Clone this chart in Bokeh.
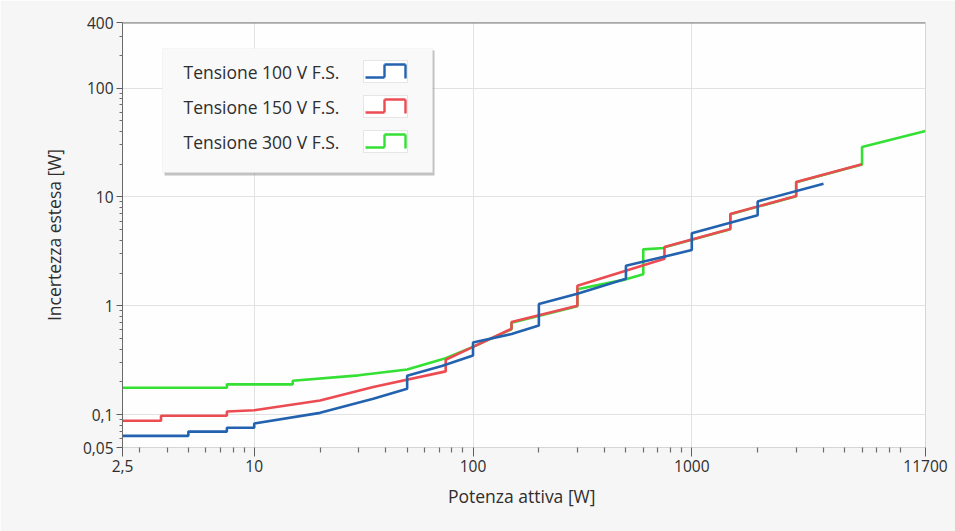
from bokeh.plotting import figure
from bokeh.models import FixedTicker, Range1d, Span, BoxAnnotation, Label, Arrow
from bokeh.embed import file_html
from bokeh.resources import INLINE

# Expanded uncertainty [W] vs. active power [W], one series per voltage full scale.
# Repeated x values mark the jumps at range changes.
v100_x = [2.5, 5, 5, 7.5, 7.5, 10, 10, 20, 35, 50, 50, 72, 100, 100, 150, 200, 200,
          300, 500, 500, 1000, 1000, 2000, 2000, 4000]
v100_y = [0.064, 0.064, 0.070, 0.070, 0.076, 0.076, 0.083, 0.104, 0.140, 0.173, 0.228,
          0.28, 0.35, 0.46, 0.55, 0.66, 1.04, 1.29, 1.77, 2.33, 3.25, 4.65, 6.8, 9.1, 13.2]

v150_x = [2.5, 3.75, 3.75, 7.5, 7.5, 10, 20, 35, 75, 75, 100, 150, 150, 300, 300,
          750, 750, 1500, 1500, 3000, 3000, 6000]
v150_y = [0.088, 0.088, 0.098, 0.098, 0.107, 0.110, 0.135, 0.18, 0.25, 0.32, 0.42,
          0.615, 0.71, 1.0, 1.53, 2.70, 3.47, 5.08, 6.98, 10.2, 13.7, 20.0]

v300_x = [2.5, 7.5, 7.5, 15, 15, 30, 50, 75, 100, 150, 150, 300, 300, 500, 600, 600,
          750, 750, 1500, 1500, 3000, 3000, 6000, 6000, 11700]
v300_y = [0.177, 0.177, 0.19, 0.19, 0.205, 0.23, 0.26, 0.33, 0.42, 0.61, 0.70, 0.99,
          1.42, 1.75, 1.95, 3.3, 3.4, 3.45, 5.05, 6.95, 10.15, 13.65, 19.9, 28.7, 40.3]

x_ticks = [2.5, 10, 100, 1000, 11700]
x_tick_labels = ["2,5", "10", "100", "1000", "11700"]
y_ticks = [0.05, 0.1, 1, 10, 100, 400]
y_tick_labels = ["0,05", "0,1", "1", "10", "100", "400"]

series_names = ["Tensione 100 V F.S.", "Tensione 150 V F.S.", "Tensione 300 V F.S."]
series_colors = ["#2262ae", "#ec4b52", "#33e033"]

FONT = "Open Sans"
TEXT = "#2e2e2e"

p = figure(width=955, height=531, x_axis_type="log", y_axis_type="log",
           x_range=Range1d(2.5, 11700), y_range=Range1d(0.05, 400),
           output_backend="svg", toolbar_location=None,
           min_border_left=122, min_border_right=30, min_border_top=22,
           min_border_bottom=84)
p.border_fill_color = "#f6f6f6"
p.background_fill_color = "#fefefe"
p.outline_line_color = "#d6d6d6"

minor_x = [m * d for d in (1, 10, 100, 1000) for m in range(2, 10) if 2.5 < m * d < 11700
           and m * d not in (10, 100, 1000)]
minor_y = [m * d for d in (0.01, 0.1, 1, 10, 100) for m in range(2, 10)
           if 0.05 < m * d < 400 and m * d not in (0.1, 1, 10, 100)]
p.xaxis.ticker = FixedTicker(ticks=x_ticks, minor_ticks=minor_x)
p.yaxis.ticker = FixedTicker(ticks=y_ticks, minor_ticks=minor_y)
p.xaxis.major_label_overrides = dict(zip(x_ticks, x_tick_labels))
p.yaxis.major_label_overrides = dict(zip(y_ticks, y_tick_labels))

for ax in (p.xaxis[0], p.yaxis[0]):
    ax.major_label_text_font = FONT
    ax.major_label_text_font_size = "15.5px"
    ax.major_label_text_color = TEXT
    ax.axis_label_text_font = FONT
    ax.axis_label_text_font_size = "17.5px"
    ax.axis_label_text_font_style = "normal"
    ax.axis_label_text_color = TEXT
    ax.major_tick_in = 0
    ax.minor_tick_in = 0
    ax.major_tick_line_color = "#5e5e5e"
    ax.minor_tick_line_color = "#6e6e6e"
    ax.minor_tick_line_width = 1.2

p.xaxis.axis_line_color = None
p.xaxis.major_tick_out = 9
p.xaxis.minor_tick_out = 5
p.xaxis.major_label_standoff = 3
p.xaxis.axis_label = "Potenza attiva  [W]"
p.xaxis.axis_label_standoff = 9

p.yaxis.axis_line_color = "#6a6a6a"
p.yaxis.major_tick_out = 6
p.yaxis.minor_tick_out = 3
p.yaxis.major_label_standoff = 3
p.yaxis.axis_label = "Incertezza estesa [W]"
p.yaxis.axis_label_standoff = 14

p.xgrid.grid_line_color = "#e2e2e2"
p.ygrid.grid_line_color = "#e2e2e2"

# upper frame edge
p.add_layout(Span(location=400, dimension="width", line_color="#7a7a7a", line_width=2))

# curves: 300 V at the back, 100 V on top
for xs, ys, c in ((v300_x, v300_y, series_colors[2]),
                  (v150_x, v150_y, series_colors[1]),
                  (v100_x, v100_y, series_colors[0])):
    p.line(xs, ys, line_color=c, line_width=2.6)

# legend box (screen units, origin at the lower-left corner of the frame)
p.add_layout(BoxAnnotation(left=42, right=312, top=397, bottom=272,
                           left_units="screen", right_units="screen",
                           top_units="screen", bottom_units="screen",
                           fill_color="#9a9a9a", fill_alpha=0.6, line_color=None))
p.add_layout(BoxAnnotation(left=40, right=310, top=399, bottom=275,
                           left_units="screen", right_units="screen",
                           top_units="screen", bottom_units="screen",
                           fill_color="#f9f9f9", fill_alpha=1.0,
                           line_color="#e4e4e4", line_width=1))

row_y = [376, 341, 306]
for name, color, ry in zip(series_names, series_colors, row_y):
    p.add_layout(Label(x=61, y=ry, x_units="screen", y_units="screen", text=name,
                       text_font=FONT, text_font_size="17.5px", text_color=TEXT,
                       text_baseline="middle", text_align="left"))
    # small framed step icon
    p.add_layout(BoxAnnotation(left=241, right=285, top=ry + 11, bottom=ry - 11,
                               left_units="screen", right_units="screen",
                               top_units="screen", bottom_units="screen",
                               fill_color="#ffffff", fill_alpha=1.0,
                               line_color="#b4b4b4", line_width=1))
    segs = [(243, ry - 6, 262, ry - 6), (262, ry - 6, 262, ry + 7),
            (262, ry + 7, 283, ry + 7), (283, ry + 7, 283, ry - 7)]
    for x0, y0, x1, y1 in segs:
        p.add_layout(Arrow(x_start=x0, y_start=y0, x_end=x1, y_end=y1,
                           start_units="screen", end_units="screen",
                           start=None, end=None, line_color=color, line_width=2.4))

open("out.html", "w").write(file_html(p, INLINE))
